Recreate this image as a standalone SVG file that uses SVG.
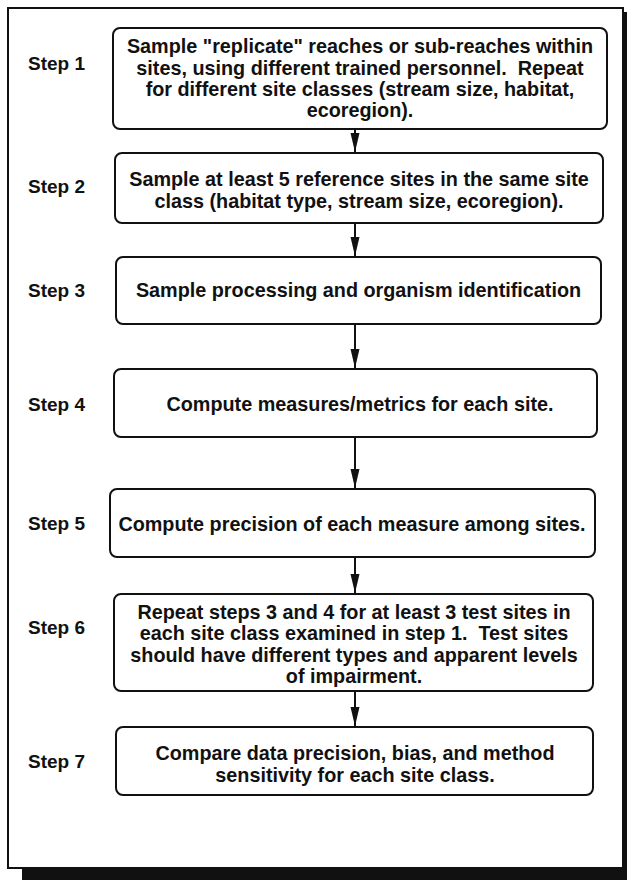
<svg xmlns="http://www.w3.org/2000/svg" width="627" height="880" viewBox="0 0 627 880">
<style>
.box{fill:#fff;stroke:#111;stroke-width:2}
.t{font-family:"Liberation Sans",Arial,sans-serif;font-weight:bold;font-size:19.8px;fill:#111;text-anchor:middle;white-space:pre}
.s{font-family:"Liberation Sans",Arial,sans-serif;font-weight:bold;font-size:19px;fill:#111}
.c{stroke:#111;stroke-width:2;fill:none;marker-end:url(#ah)}
</style>
<defs>
<marker id="ah" markerUnits="userSpaceOnUse" markerWidth="19" markerHeight="10" refX="19" refY="5" orient="auto" viewBox="0 0 19 10">
<path d="M0,0.5 L19,5 L0,9.5 Z" fill="#111"/>
</marker>
</defs>
<rect x="0" y="0" width="627" height="880" fill="#fff"/>
<rect x="22" y="12" width="620" height="880" fill="#111"/>
<rect x="8" y="8" width="615" height="860" fill="#fff" stroke="#111" stroke-width="2"/>
<g id="connectors">
<line class="c" x1="355" y1="129" x2="355" y2="152"/>
<line class="c" x1="355" y1="224" x2="355" y2="256"/>
<line class="c" x1="355" y1="325" x2="355" y2="368"/>
<line class="c" x1="355" y1="438" x2="355" y2="488"/>
<line class="c" x1="355" y1="558" x2="355" y2="593"/>
<line class="c" x1="355" y1="691" x2="355" y2="726"/>
</g>
<g id="step1">
<text class="s" x="28" y="70">Step 1</text>
<rect class="box" x="113" y="28" width="494" height="101" rx="7"/>
<text class="t" x="360" y="53">Sample "replicate" reaches or sub-reaches within</text>
<text class="t" x="360" y="74.5" xml:space="preserve">sites, using different trained personnel.  Repeat</text>
<text class="t" x="360" y="96">for different site classes (stream size, habitat,</text>
<text class="t" x="360" y="117">ecoregion).</text>
</g>
<g id="step2">
<text class="s" x="28" y="193">Step 2</text>
<rect class="box" x="115" y="153" width="488" height="70" rx="7"/>
<text class="t" x="359" y="186">Sample at least 5 reference sites in the same site</text>
<text class="t" x="359" y="207.5">class (habitat type, stream size, ecoregion).</text>
</g>
<g id="step3">
<text class="s" x="28" y="297">Step 3</text>
<rect class="box" x="116" y="257" width="485" height="67" rx="7"/>
<text class="t" x="358.5" y="297">Sample processing and organism identification</text>
</g>
<g id="step4">
<text class="s" x="28" y="410.5">Step 4</text>
<rect class="box" x="114" y="369" width="483" height="68" rx="7"/>
<text class="t" x="360" y="410.5">Compute measures/metrics for each site.</text>
</g>
<g id="step5">
<text class="s" x="28" y="530">Step 5</text>
<rect class="box" x="110" y="489" width="485" height="68" rx="7"/>
<text class="t" x="352" y="530.5">Compute precision of each measure among sites.</text>
</g>
<g id="step6">
<text class="s" x="28" y="634">Step 6</text>
<rect class="box" x="114" y="594" width="479" height="97" rx="7"/>
<text class="t" x="354" y="618.5">Repeat steps 3 and 4 for at least 3 test sites in</text>
<text class="t" x="354" y="640" xml:space="preserve">each site class examined in step 1.  Test sites</text>
<text class="t" x="354" y="661.5">should have different types and apparent levels</text>
<text class="t" x="354" y="683">of impairment.</text>
</g>
<g id="step7">
<text class="s" x="28" y="768">Step 7</text>
<rect class="box" x="116" y="727" width="477" height="68" rx="7"/>
<text class="t" x="355" y="760">Compare data precision, bias, and method</text>
<text class="t" x="355" y="781.5">sensitivity for each site class.</text>
</g>
</svg>
